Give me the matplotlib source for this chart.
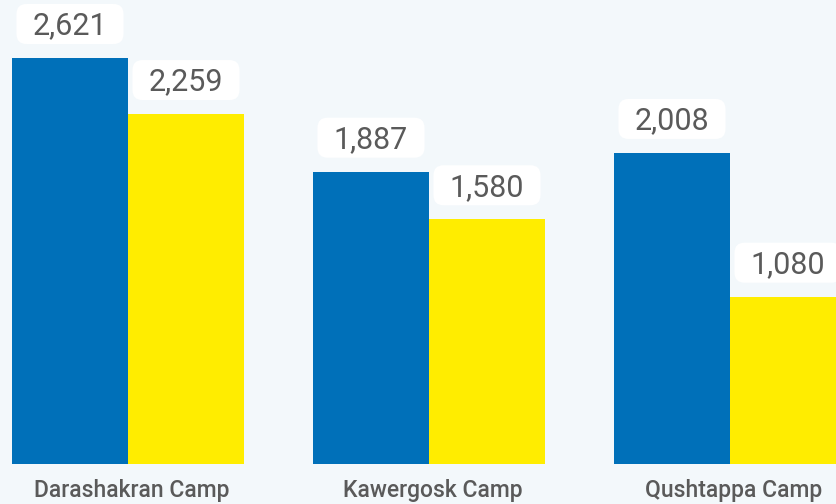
import matplotlib
matplotlib.use("Agg")
import matplotlib.pyplot as plt
from matplotlib.patches import FancyBboxPatch
import numpy as np

camps = ["Darashakran Camp", "Kawergosk Camp", "Qushtappa Camp"]
blue_vals = [2621, 1887, 2008]
yellow_vals = [2259, 1580, 1080]

BLUE = "#0070b9"
YELLOW = "#ffed00"
BG = "#f3f8fb"
GREY = "#5a5a5a"

fig = plt.figure(figsize=(8.37, 5.04), dpi=100)
fig.patch.set_facecolor(BG)
ax = fig.add_axes([0, 0, 1, 1])
ax.set_facecolor(BG)

# pixel scale helpers
px_x = 1 / 301.0           # data x per pixel
px_y = 2621 / 406.0        # data y per pixel

ax.set_xlim(-128 * px_x, (837 - 128) * px_x)
ax.set_ylim(-40 * px_y, 464 * px_y)

x = np.arange(len(camps))
w = 116 * px_x

ax.bar(x - w / 2, blue_vals, w, color=BLUE, linewidth=0)
ax.bar(x + w / 2, yellow_vals, w, color=YELLOW, linewidth=0)

def label(xc, v):
    bw = 107 * px_x
    bh = 40 * px_y
    y0 = v + 14 * px_y
    box = FancyBboxPatch((xc - bw / 2, y0), bw, bh,
                         boxstyle="round,pad=0,rounding_size=%f" % (10 * px_x),
                         mutation_aspect=px_y / px_x,
                         facecolor="white", edgecolor="none", zorder=3)
    ax.add_patch(box)
    ax.text(xc, y0 + bh / 2 - 2 * px_y, f"{v:,}", ha="center", va="center",
            fontsize=22, color=GREY, family="Roboto", zorder=4)

for i in range(len(camps)):
    label(x[i] - w / 2, blue_vals[i])
    label(x[i] + w / 2, yellow_vals[i])

for i, c in enumerate(camps):
    ax.text(x[i] + 4 * px_x, -27 * px_y, c, ha="center", va="center",
            fontsize=16.5, color=GREY, family="Roboto", fontweight="medium")

ax.axis("off")
fig.savefig("out.png", dpi=100, facecolor=BG)
